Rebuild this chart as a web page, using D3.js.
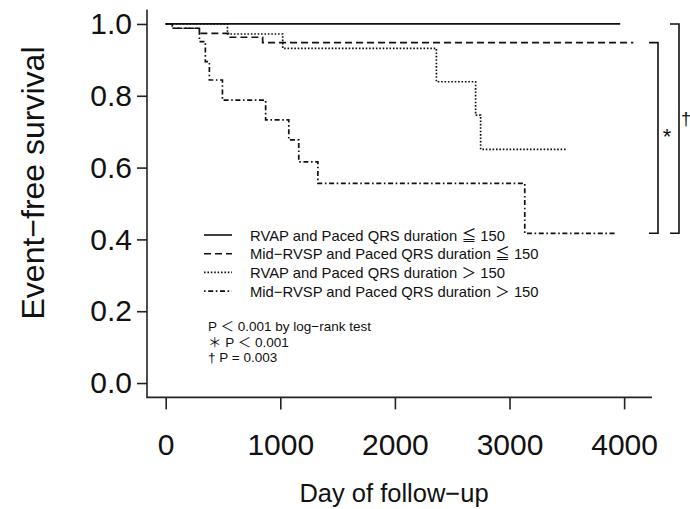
<!DOCTYPE html>
<html>
<head>
<meta charset="utf-8">
<script src="https://cdn.jsdelivr.net/npm/d3@7"></script>
<style>
  body { margin: 0; background: #fff; }
  text { fill: #111; }
</style>
</head>
<body>
<div id="km"></div>
<script>
// Kaplan-Meier step data (days, survival)
var solidDays   = [0, 3966];
var solidSurv   = [1.0, 1.0];
var dashedDays  = [0, 57, 294, 548, 846, 4080];
var dashedSurv  = [1.0, 0.988, 0.974, 0.963, 0.948, 0.948];
var dottedDays  = [0, 539, 1021, 2362, 2704, 2748, 3501];
var dottedSurv  = [1.0, 0.972, 0.932, 0.839, 0.746, 0.651, 0.651];
var dashDotDays = [0, 57, 294, 346, 381, 495, 872, 1074, 1161, 1328, 3133, 3939];
var dashDotSurv = [1.0, 0.988, 0.951, 0.895, 0.844, 0.788, 0.733, 0.677, 0.616, 0.556, 0.417, 0.417];

var legendLabels = [
  "RVAP and Paced QRS duration \u2266 150",
  "Mid\u2212RVSP and Paced QRS duration \u2266 150",
  "RVAP and Paced QRS duration \uFF1E 150",
  "Mid\u2212RVSP and Paced QRS duration \uFF1E 150"
];
var statLines = [
  "P \uFF1C 0.001 by log\u2212rank test",
  "\uFF0A P \uFF1C 0.001",
  "\u2020 P = 0.003"
];
var xTicks = [0, 1000, 2000, 3000, 4000];
var yTicks = [0, 0.2, 0.4, 0.6, 0.8, 1.0];

var W = 690, H = 509;
var plot = {left: 147, right: 652, top: 9.6, bottom: 397.4};

var svg = d3.select("#km")
  .append("svg")
    .attr("width", W)
    .attr("height", H);

// R style 4% padding on both axes
var xmax = d3.max([solidDays, dashedDays, dottedDays, dashDotDays], function(a){ return d3.max(a) });
var xpad = xmax * 0.04;
var x = d3.scaleLinear()
  .domain([-xpad, xmax + xpad])
  .range([plot.left, plot.right]);
var y = d3.scaleLinear()
  .domain([-0.04, 1.04])
  .range([plot.bottom, plot.top]);

var styles = [
  {dash: null},
  {dash: "7,4"},
  {dash: "1.6,1.8"},
  {dash: "1.6,2.6,5,2.6"}
];

var series = [
  d3.zip(solidDays, solidSurv),
  d3.zip(dashedDays, dashedSurv),
  d3.zip(dottedDays, dottedSurv),
  d3.zip(dashDotDays, dashDotSurv)
];

var line = d3.line()
  .x(function(d){ return x(d[0]) })
  .y(function(d){ return y(d[1]) })
  .curve(d3.curveStepAfter);

svg.selectAll("path.km")
  .data(series)
  .enter()
  .append("path")
    .attr("class", "km")
    .attr("d", line)
    .attr("fill", "none")
    .attr("stroke", "#111")
    .attr("stroke-width", 1.7)
    .attr("stroke-dasharray", function(d, i){ return styles[i].dash });

// L-shaped box
svg.append("path")
  .attr("d", "M" + plot.left + "," + plot.top + "V" + plot.bottom + "H" + plot.right)
  .attr("fill", "none")
  .attr("stroke", "#222")
  .attr("stroke-width", 1.6);

var axisFont = "'Liberation Sans', Arial, sans-serif";

var yAxis = svg.append("g")
  .attr("transform", "translate(" + plot.left + ",0)")
  .call(d3.axisLeft(y).tickValues(yTicks).tickFormat(d3.format(".1f")).tickSize(10).tickPadding(5));
yAxis.select(".domain").remove();

var xAxis = svg.append("g")
  .attr("transform", "translate(0," + plot.bottom + ")")
  .call(d3.axisBottom(x).tickValues(xTicks).tickFormat(d3.format("d")).tickSize(12).tickPadding(24));
xAxis.select(".domain").remove();

svg.selectAll(".tick line").attr("stroke", "#222").attr("stroke-width", 1.6);
svg.selectAll(".tick text")
  .style("font-family", axisFont)
  .style("font-size", "30px")
  .attr("fill", "#111");

svg.append("text")
  .attr("x", 394)
  .attr("y", 502)
  .attr("text-anchor", "middle")
  .style("font-family", axisFont)
  .style("font-size", "25.5px")
  .text("Day of follow\u2212up");

svg.append("text")
  .attr("transform", "translate(44,183)rotate(-90)")
  .attr("text-anchor", "middle")
  .style("font-family", axisFont)
  .style("font-size", "32px")
  .text("Event\u2212free survival");

// legend
var legFont = "'Liberation Sans', 'Noto Sans CJK JP', sans-serif";
var leg = svg.append("g");
var legRows = leg.selectAll("g")
  .data(legendLabels)
  .enter()
  .append("g")
    .attr("transform", function(d, i){ return "translate(0," + (235 + i * 18.7) + ")" });
legRows.append("line")
  .attr("x1", 204).attr("x2", 232)
  .attr("stroke", "#111")
  .attr("stroke-width", 1.6)
  .attr("stroke-dasharray", function(d, i){ return styles[i].dash });
legRows.append("text")
  .attr("x", 250)
  .attr("y", 5.5)
  .style("font-family", legFont)
  .style("font-size", "14.8px")
  .text(function(d){ return d });

svg.selectAll("text.stat")
  .data(statLines)
  .enter()
  .append("text")
    .attr("class", "stat")
    .attr("x", 208)
    .attr("y", function(d, i){ return 331 + i * 15.5 })
    .style("font-family", legFont)
    .style("font-size", "13.5px")
    .text(function(d){ return d });

// significance brackets
var brackets = [
  {top: dashedSurv[dashedSurv.length - 1], bottom: dashDotSurv[dashDotSurv.length - 1], x: 658, mark: "*", dx: 9, size: 22},
  {top: solidSurv[solidSurv.length - 1], bottom: dashDotSurv[dashDotSurv.length - 1], x: 679, mark: "\u2020", dx: 7, size: 18}
];
svg.selectAll("path.br")
  .data(brackets)
  .enter()
  .append("path")
    .attr("class", "br")
    .attr("d", function(d){
      return "M" + (d.x - 9) + "," + y(d.top) + "H" + d.x + "V" + y(d.bottom) + "H" + (d.x - 9);
    })
    .attr("fill", "none")
    .attr("stroke", "#111")
    .attr("stroke-width", 1.6);
svg.selectAll("text.br")
  .data(brackets)
  .enter()
  .append("text")
    .attr("class", "br")
    .attr("x", function(d){ return d.x + d.dx })
    .attr("y", function(d, i){ return (y(d.top) + y(d.bottom)) / 2 + (i ? -4 : 6) })
    .attr("text-anchor", "middle")
    .style("font-family", legFont)
    .style("font-size", function(d){ return d.size + "px" })
    .text(function(d){ return d.mark });
</script>
</body>
</html>
